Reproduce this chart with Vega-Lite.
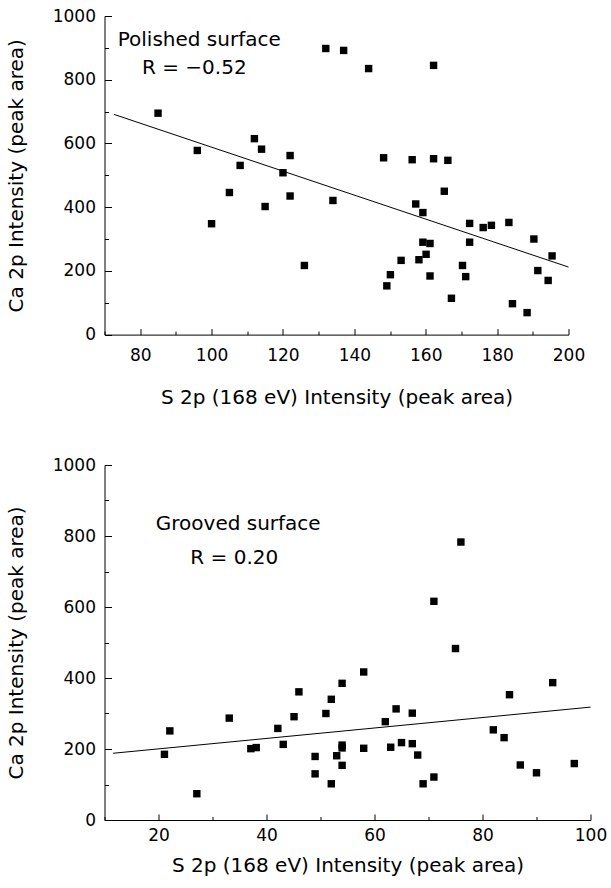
{
  "$schema": "https://vega.github.io/schema/vega-lite/v6.json",
  "padding": {"left": 5.5, "top": 7, "right": 5, "bottom": 5},
  "background": "white",
  "spacing": 130,
  "bounds": "flush",
  "config": {
    "view": {"stroke": null},
    "font": "DejaVu Sans",
    "axis": {
      "grid": false,
      "labelFont": "DejaVu Sans",
      "labelFontSize": 17,
      "labelColor": "black",
      "titleFont": "DejaVu Sans",
      "titleFontSize": 20,
      "titleFontWeight": "normal",
      "titleColor": "black",
      "domainColor": "black",
      "domainWidth": 1,
      "tickColor": "black",
      "tickWidth": 1,
      "labelFlush": false,
      "labelOverlap": false
    }
  },
  "datasets": {
    "polished": [
      {"s": 85, "ca": 695}, {"s": 96, "ca": 578}, {"s": 100, "ca": 348}, {"s": 105, "ca": 446},
      {"s": 108, "ca": 531}, {"s": 112, "ca": 615}, {"s": 114, "ca": 582}, {"s": 115, "ca": 402},
      {"s": 120, "ca": 508}, {"s": 122, "ca": 562}, {"s": 122, "ca": 435}, {"s": 126, "ca": 217},
      {"s": 132, "ca": 898}, {"s": 134, "ca": 421}, {"s": 137, "ca": 892}, {"s": 144, "ca": 835},
      {"s": 162.2, "ca": 845}, {"s": 148.2, "ca": 555}, {"s": 156.2, "ca": 549}, {"s": 162.2, "ca": 552},
      {"s": 166.2, "ca": 547}, {"s": 165.2, "ca": 450}, {"s": 157.2, "ca": 410}, {"s": 159.2, "ca": 383},
      {"s": 159.2, "ca": 290}, {"s": 161.2, "ca": 286}, {"s": 160.1, "ca": 252}, {"s": 158.1, "ca": 235},
      {"s": 153.1, "ca": 233}, {"s": 150.1, "ca": 188}, {"s": 149.1, "ca": 153}, {"s": 161.2, "ca": 184},
      {"s": 167.2, "ca": 114}, {"s": 170.3, "ca": 217}, {"s": 171.2, "ca": 182}, {"s": 172.3, "ca": 349},
      {"s": 172.3, "ca": 290}, {"s": 176.1, "ca": 336}, {"s": 178.4, "ca": 343}, {"s": 183.3, "ca": 352},
      {"s": 184.3, "ca": 97}, {"s": 188.4, "ca": 69}, {"s": 190.3, "ca": 300}, {"s": 191.4, "ca": 201},
      {"s": 194.3, "ca": 170}, {"s": 195.4, "ca": 247}
    ],
    "polishedFit": [{"s": 72.7, "ca": 691}, {"s": 200, "ca": 212}],
    "grooved": [
      {"s": 21.1, "ca": 185}, {"s": 22.1, "ca": 251}, {"s": 27.1, "ca": 74}, {"s": 33.1, "ca": 287},
      {"s": 37.1, "ca": 201}, {"s": 38.1, "ca": 204}, {"s": 42.1, "ca": 258}, {"s": 43.1, "ca": 213},
      {"s": 45.1, "ca": 291}, {"s": 46, "ca": 361}, {"s": 49, "ca": 179}, {"s": 49, "ca": 130},
      {"s": 51, "ca": 300}, {"s": 52, "ca": 340}, {"s": 52, "ca": 102}, {"s": 53, "ca": 181},
      {"s": 54, "ca": 385}, {"s": 54, "ca": 211}, {"s": 54, "ca": 203}, {"s": 54, "ca": 154},
      {"s": 58, "ca": 417}, {"s": 58, "ca": 202}, {"s": 62, "ca": 277}, {"s": 63, "ca": 205},
      {"s": 64, "ca": 313}, {"s": 65, "ca": 218}, {"s": 67, "ca": 301}, {"s": 67, "ca": 215},
      {"s": 68, "ca": 183}, {"s": 69, "ca": 102}, {"s": 71, "ca": 121}, {"s": 71, "ca": 616},
      {"s": 75, "ca": 483}, {"s": 76, "ca": 783}, {"s": 82, "ca": 254}, {"s": 84, "ca": 232},
      {"s": 85, "ca": 353}, {"s": 87, "ca": 155}, {"s": 90, "ca": 133}, {"s": 93, "ca": 387},
      {"s": 97, "ca": 159}
    ],
    "groovedFit": [{"s": 11.6, "ca": 188}, {"s": 100, "ca": 318}]
  },
  "vconcat": [
    {
      "width": 464,
      "height": 318.6,
      "resolve": {"axis": {"x": "independent", "y": "independent"}},
      "layer": [
        {
          "data": {"name": "polished"},
          "mark": {"type": "square", "size": 55, "color": "black", "opacity": 1},
          "encoding": {
            "x": {"field": "s", "type": "quantitative",
              "scale": {"domain": [70, 200], "nice": false, "zero": false},
              "axis": {"orient": "bottom", "values": [80, 100, 120, 140, 160, 180, 200], "tickSize": -6,
                "labelPadding": 19, "titlePadding": 24, "format": "d", "title": "S 2p (168 eV) Intensity (peak area)"}},
            "y": {"field": "ca", "type": "quantitative",
              "scale": {"domain": [0, 1000], "nice": false},
              "axis": {"orient": "left", "values": [0, 200, 400, 600, 800, 1000], "tickSize": -7, "format": "d",
                "labelPadding": 16, "titlePadding": 26, "title": "Ca 2p Intensity (peak area)"}}
          }
        },
        {
          "data": {"name": "polishedFit"},
          "mark": {"type": "line", "color": "black", "strokeWidth": 1},
          "encoding": {
            "x": {"field": "s", "type": "quantitative",
              "axis": {"orient": "bottom", "values": [70, 90, 110, 130, 150, 170, 190], "tickSize": -3.5,
                "labels": false, "domain": false, "title": null}},
            "y": {"field": "ca", "type": "quantitative",
              "axis": {"orient": "left", "values": [100, 300, 500, 700, 900], "tickSize": -4,
                "labels": false, "domain": false, "title": null}}
          }
        },
        {
          "data": {"values": [{"label": "Polished surface"}]},
          "mark": {"type": "text", "align": "left", "baseline": "middle", "fontSize": 20, "font": "DejaVu Sans", "color": "black"},
          "encoding": {
            "x": {"datum": 73.7, "type": "quantitative", "axis": null},
            "y": {"datum": 924, "type": "quantitative", "axis": null},
            "text": {"field": "label"}
          }
        },
        {
          "data": {"values": [{"label": "R = −0.52"}]},
          "mark": {"type": "text", "align": "left", "baseline": "middle", "fontSize": 20, "font": "DejaVu Sans", "color": "black"},
          "encoding": {
            "x": {"datum": 80.5, "type": "quantitative", "axis": null},
            "y": {"datum": 836, "type": "quantitative", "axis": null},
            "text": {"field": "label"}
          }
        }
      ]
    },
    {
      "width": 486,
      "height": 355,
      "resolve": {"axis": {"x": "independent", "y": "independent"}},
      "layer": [
        {
          "data": {"name": "grooved"},
          "mark": {"type": "square", "size": 55, "color": "black", "opacity": 1},
          "encoding": {
            "x": {"field": "s", "type": "quantitative",
              "scale": {"domain": [10, 100], "nice": false, "zero": false},
              "axis": {"orient": "bottom", "values": [20, 40, 60, 80, 100], "tickSize": -6, "format": "d",
                "labelPadding": 13, "titlePadding": 12, "title": "S 2p (168 eV) Intensity (peak area)"}},
            "y": {"field": "ca", "type": "quantitative",
              "scale": {"domain": [0, 1000], "nice": false},
              "axis": {"orient": "left", "values": [0, 200, 400, 600, 800, 1000], "tickSize": -7, "format": "d",
                "labelPadding": 16, "titlePadding": 26, "title": "Ca 2p Intensity (peak area)"}}
          }
        },
        {
          "data": {"name": "groovedFit"},
          "mark": {"type": "line", "color": "black", "strokeWidth": 1},
          "encoding": {
            "x": {"field": "s", "type": "quantitative",
              "axis": {"orient": "bottom", "values": [10, 30, 50, 70, 90], "tickSize": -3.5,
                "labels": false, "domain": false, "title": null}},
            "y": {"field": "ca", "type": "quantitative",
              "axis": {"orient": "left", "values": [100, 300, 500, 700, 900], "tickSize": -4,
                "labels": false, "domain": false, "title": null}}
          }
        },
        {
          "data": {"values": [{"label": "Grooved surface"}]},
          "mark": {"type": "text", "align": "left", "baseline": "middle", "fontSize": 20, "font": "DejaVu Sans", "color": "black"},
          "encoding": {
            "x": {"datum": 19.5, "type": "quantitative", "axis": null},
            "y": {"datum": 835, "type": "quantitative", "axis": null},
            "text": {"field": "label"}
          }
        },
        {
          "data": {"values": [{"label": "R = 0.20"}]},
          "mark": {"type": "text", "align": "left", "baseline": "middle", "fontSize": 20, "font": "DejaVu Sans", "color": "black"},
          "encoding": {
            "x": {"datum": 25.9, "type": "quantitative", "axis": null},
            "y": {"datum": 737, "type": "quantitative", "axis": null},
            "text": {"field": "label"}
          }
        }
      ]
    }
  ]
}
